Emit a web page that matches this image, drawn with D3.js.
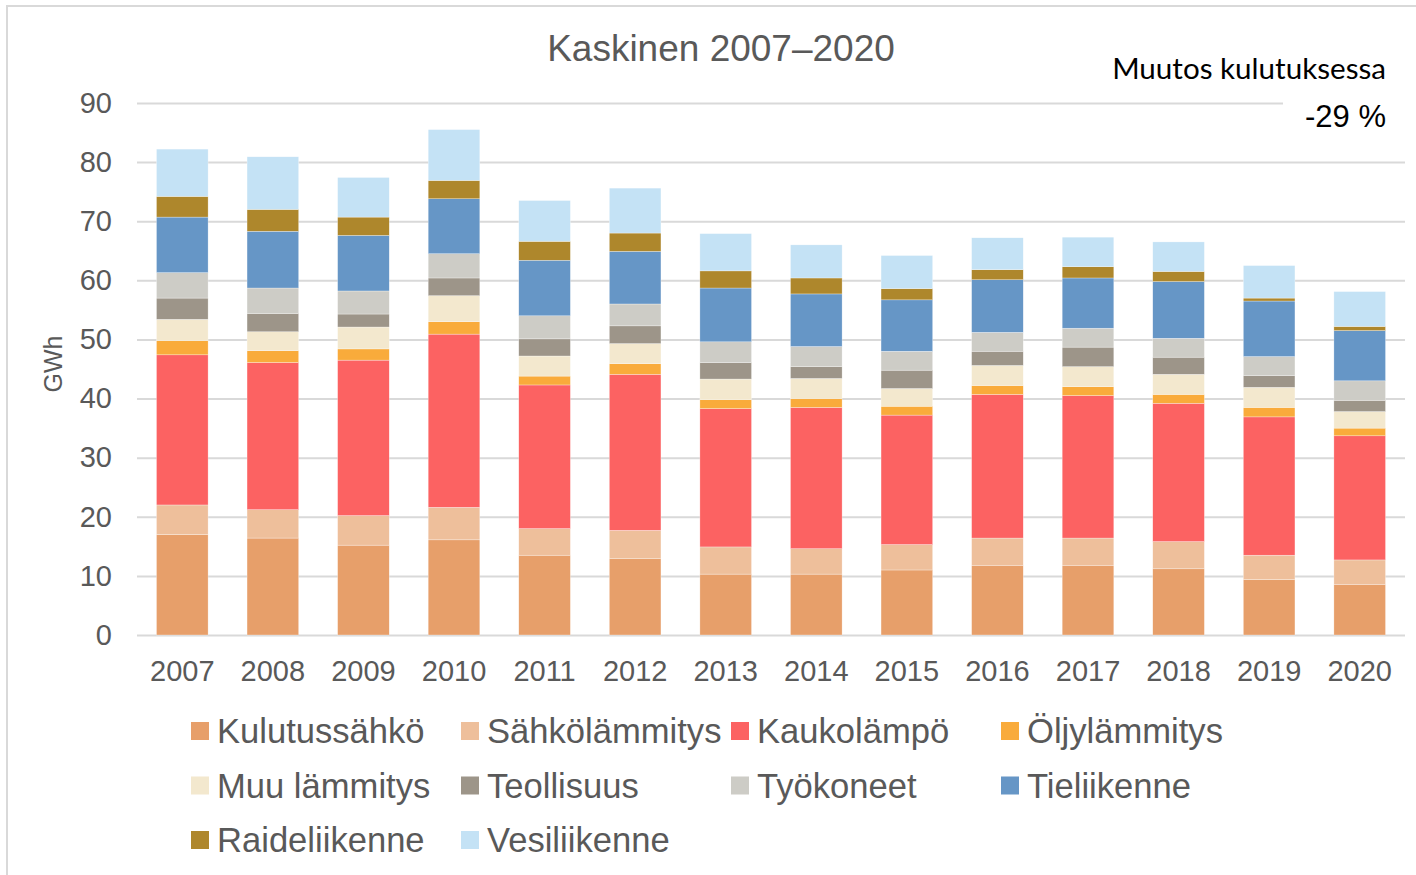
<!DOCTYPE html>
<html>
<head>
<meta charset="utf-8">
<script src="https://cdn.jsdelivr.net/npm/d3@7"></script>
<style>
  html, body { margin: 0; padding: 0; background: #fff; }
  svg { display: block; }
</style>
</head>
<body>
<svg id="chart" width="1416" height="875"></svg>
<script>
// --- DATA --------------------------------------------------------------------
const years = ['2007', '2008', '2009', '2010', '2011', '2012', '2013',
               '2014', '2015', '2016', '2017', '2018', '2019', '2020'];

const seriesNames = ['Kulutussähkö', 'Sähkölämmitys', 'Kaukolämpö', 'Öljylämmitys',
                     'Muu lämmitys', 'Teollisuus', 'Työkoneet', 'Tieliikenne',
                     'Raideliikenne', 'Vesiliikenne'];

const kulutussahko  = [17.0, 16.4, 15.2, 16.1, 13.5, 12.9, 10.3, 10.3, 11.0, 11.8, 11.8, 11.2, 9.4, 8.5];
const sahkolammitys = [5.0, 4.8, 5.0, 5.5, 4.5, 4.8, 4.6, 4.3, 4.3, 4.6, 4.6, 4.6, 4.1, 4.2];
const kaukolampo    = [25.4, 24.9, 26.3, 29.3, 24.3, 26.4, 23.4, 23.9, 21.9, 24.3, 24.1, 23.4, 23.4, 21.0];
const oljylammitys  = [2.4, 2.0, 1.9, 2.1, 1.5, 1.8, 1.5, 1.5, 1.5, 1.5, 1.5, 1.5, 1.6, 1.3];
const muuLammitys   = [3.6, 3.2, 3.7, 4.4, 3.4, 3.4, 3.5, 3.4, 3.0, 3.4, 3.4, 3.4, 3.4, 2.8];
const teollisuus    = [3.6, 3.1, 2.2, 3.0, 2.9, 3.0, 2.8, 2.0, 3.1, 2.4, 3.3, 2.9, 2.0, 1.9];
const tyokoneet     = [4.3, 4.3, 3.9, 4.1, 3.9, 3.7, 3.5, 3.4, 3.2, 3.2, 3.2, 3.2, 3.2, 3.3];
const tieliikenne   = [9.4, 9.6, 9.4, 9.3, 9.4, 8.9, 9.1, 8.9, 8.7, 8.9, 8.5, 9.6, 9.4, 8.5];
const raideliikenne = [3.5, 3.7, 3.1, 3.1, 3.2, 3.1, 2.9, 2.7, 1.9, 1.7, 1.9, 1.7, 0.5, 0.7];
const vesiliikenne  = [8.0, 8.9, 6.7, 8.6, 6.9, 7.6, 6.3, 5.6, 5.6, 5.4, 5.0, 5.0, 5.5, 5.9];

const yTicks = [0, 10, 20, 30, 40, 50, 60, 70, 80, 90];

const titleText  = 'Kaskinen 2007–2020';
const noteLabel  = 'Muutos kulutuksessa';
const noteValue  = '-29 %';
const yTitle     = 'GWh';

// --- STYLE -------------------------------------------------------------------
const COLORS = ['#E79F6A', '#EEBF9B', '#FC6262', '#F9AB3B', '#F3E8CE',
                '#9D9589', '#CDCCC6', '#6696C6', '#AE872C', '#C4E2F5'];
const TEXT_COL = '#595959';
const GRID_COL = '#D9D9D9';
const FONT     = '"Liberation Sans", Arial, sans-serif';

const PLOT = { left: 137, right: 1405, top: 103, bottom: 635 };

// --- BUILD TABLE -------------------------------------------------------------
const allSeries = [kulutussahko, sahkolammitys, kaukolampo, oljylammitys, muuLammitys,
                   teollisuus, tyokoneet, tieliikenne, raideliikenne, vesiliikenne];
const table = years.map((y, i) => {
  const row = { year: y };
  seriesNames.forEach((s, k) => { row[s] = allSeries[k][i]; });
  return row;
});

const stacked = d3.stack().keys(seriesNames)(table);

// --- SCALES ------------------------------------------------------------------
const x = d3.scaleBand().domain(years)
  .range([PLOT.left, PLOT.right])
  .paddingInner(0.43).paddingOuter(0.215);

const y = d3.scaleLinear().domain([0, 90]).range([PLOT.bottom, PLOT.top]);

const color = d3.scaleOrdinal().domain(seriesNames).range(COLORS);

const svg = d3.select('#chart');

// Outer chart border (runs off the right and bottom edge)
svg.append('rect')
  .attr('x', 7).attr('y', 6).attr('width', 1430).attr('height', 900)
  .attr('fill', '#fff').attr('stroke', GRID_COL).attr('stroke-width', 2);

// --- GRID + Y AXIS -----------------------------------------------------------
const yAxis = d3.axisLeft(y).tickValues(yTicks)
  .tickSize(-(PLOT.right - PLOT.left)).tickPadding(25);

const yG = svg.append('g')
  .attr('transform', `translate(${PLOT.left},0)`)
  .call(yAxis);
yG.select('.domain').remove();
yG.selectAll('.tick line').attr('stroke', GRID_COL).attr('stroke-width', 2);
yG.selectAll('.tick text')
  .attr('fill', TEXT_COL).attr('font-family', FONT).attr('font-size', 29);

// --- BARS --------------------------------------------------------------------
svg.append('g').selectAll('g')
  .data(stacked)
  .join('g')
  .attr('fill', d => color(d.key))
  .selectAll('rect')
  .data(d => d)
  .join('rect')
  .attr('x', d => x(d.data.year))
  .attr('y', d => y(d[1]))
  .attr('width', x.bandwidth())
  .attr('height', d => y(d[0]) - y(d[1]))
  .attr('stroke', '#fff').attr('stroke-width', 0.5).attr('stroke-opacity', 0.6);

// --- X AXIS ------------------------------------------------------------------
const xG = svg.append('g')
  .attr('transform', `translate(0,${PLOT.bottom})`)
  .call(d3.axisBottom(x).tickSize(0).tickPadding(25));
xG.select('.domain').remove();
xG.selectAll('.tick text')
  .attr('fill', TEXT_COL).attr('font-family', FONT).attr('font-size', 29);

// --- TITLES ------------------------------------------------------------------
svg.append('text')
  .attr('x', 721).attr('y', 61)
  .attr('text-anchor', 'middle')
  .attr('fill', TEXT_COL).attr('font-family', FONT).attr('font-size', 37)
  .text(titleText);

svg.append('text')
  .attr('transform', 'translate(62,364) rotate(-90)')
  .attr('text-anchor', 'middle')
  .attr('fill', TEXT_COL).attr('font-family', FONT).attr('font-size', 25)
  .text(yTitle);

// Change annotation (text box with white fill over the top grid line)
svg.append('rect')
  .attr('x', 1283).attr('y', 92).attr('width', 124).attr('height', 44)
  .attr('fill', '#fff');

svg.append('text')
  .attr('x', 1386).attr('y', 79)
  .attr('text-anchor', 'end')
  .attr('fill', '#000').attr('font-family', 'Lato, "Open Sans", sans-serif').attr('font-size', 29.6)
  .text(noteLabel);

svg.append('text')
  .attr('x', 1386).attr('y', 127)
  .attr('text-anchor', 'end')
  .attr('fill', '#000').attr('font-family', FONT).attr('font-size', 31)
  .text(noteValue);

// --- LEGEND ------------------------------------------------------------------
const LEG = { x0: 191, colW: 270, y0: 722, rowH: 54.5, sw: 18 };

const legendItems = svg.append('g').selectAll('g')
  .data(seriesNames)
  .join('g')
  .attr('transform', (d, i) =>
    `translate(${LEG.x0 + (i % 4) * LEG.colW},${LEG.y0 + Math.floor(i / 4) * LEG.rowH})`);

legendItems.append('rect')
  .attr('width', LEG.sw).attr('height', LEG.sw)
  .attr('fill', d => color(d));

legendItems.append('text')
  .attr('x', 26).attr('y', 21)
  .attr('fill', TEXT_COL).attr('font-family', FONT).attr('font-size', 34.6)
  .text(d => d);
</script>
</body>
</html>
